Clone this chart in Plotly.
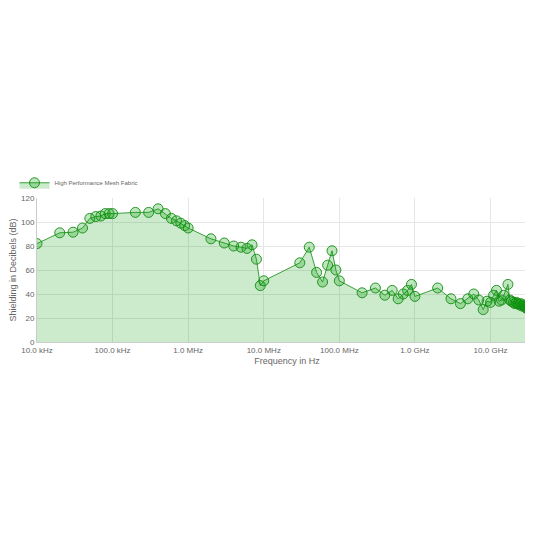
import plotly.graph_objs as go

freq_hz = [
    1e4, 2e4, 3e4, 4e4, 5e4, 6e4, 7e4, 8e4, 9e4, 1e5,
    2e5, 3e5, 4e5, 5e5, 6e5, 7e5, 8e5, 9e5, 1e6,
    2e6, 3e6, 4e6, 5e6, 6e6, 7e6, 8e6, 9e6, 1e7,
    3e7, 4e7, 5e7, 6e7, 7e7, 8e7, 9e7, 1e8,
    2e8, 3e8, 4e8, 5e8, 6e8, 7e8, 8e8, 9e8, 1e9,
    2e9, 3e9, 4e9, 5e9, 6e9, 7e9, 8e9, 9e9, 1e10,
    1.1e10, 1.2e10, 1.3e10, 1.4e10, 1.5e10, 1.7e10, 1.8e10,
    1.9e10, 2.0e10, 2.1e10, 2.2e10, 2.3e10, 2.4e10, 2.5e10, 2.6e10, 2.7e10,
    2.8e10, 2.9e10, 3.0e10, 3.1e10, 3.2e10, 3.3e10, 3.4e10, 3.5e10, 3.6e10,
    3.7e10, 3.8e10, 4.0e10,
]
shielding_db = [
    82, 91, 91.5, 95, 103, 104.5, 105, 107, 107, 107,
    108, 108, 111, 107, 103, 101, 99, 97, 95,
    86, 82.5, 80, 79, 78, 81, 69, 47, 51,
    66, 79, 58, 50, 64, 76, 60, 51,
    41, 45, 39, 43, 36, 40, 43, 48, 38,
    45, 36, 32, 36, 40, 35, 27, 34, 33,
    39, 43, 34, 35, 39, 48, 35,
    34, 33, 32, 33, 32, 31, 32, 30, 31,
    30, 29, 28, 30, 27, 29, 28, 27, 29,
    28, 29, 27,
]
series_name = "High Performance Mesh Fabric"

tick_vals = [1e4, 1e5, 1e6, 1e7, 1e8, 1e9, 1e10]
tick_text = ["10.0 kHz", "100.0 kHz", "1.0 MHz", "10.0 MHz", "100.0 MHz", "1.0 GHz", "10.0 GHz"]

fig = go.Figure()
fig.add_trace(go.Scatter(
    x=freq_hz, y=shielding_db, name=series_name,
    mode="lines+markers", fill="tozeroy",
    fillcolor="rgba(0,150,0,0.2)",
    line=dict(color="rgba(40,150,40,0.9)", width=1),
    marker=dict(size=10, color="rgba(0,160,0,0.25)",
                line=dict(color="rgba(20,140,20,0.9)", width=1)),
))
fig.update_layout(
    width=533, height=533,
    paper_bgcolor="white", plot_bgcolor="white",
    margin=dict(l=29, r=4, t=190, b=199),
    font=dict(family="Liberation Sans, Arial", size=8, color="#666"),
    showlegend=True,
    legend=dict(x=-0.045, y=1.005, xanchor="left", yanchor="bottom",
                itemwidth=30, font=dict(size=6, color="#666"), bgcolor="rgba(0,0,0,0)"),
    xaxis=dict(type="log", range=[4, 10.615], tickvals=tick_vals, ticktext=tick_text,
               automargin=False,
               showgrid=True, gridcolor="#e6e6e6", zeroline=False,
               showline=True, linecolor="#ccc",
               title=dict(text="Frequency in Hz", font=dict(size=9, color="#666"), standoff=4),
               tickfont=dict(size=8, color="#666")),
    yaxis=dict(range=[0, 120], dtick=20, showgrid=True, gridcolor="#e6e6e6",
               automargin=False,
               zeroline=False, showline=True, linecolor="#ccc",
               title=dict(text="Shielding in Decibels (dB)", font=dict(size=9, color="#666"), standoff=4),
               tickfont=dict(size=8, color="#666")),
)
fig.write_html("out.html")
